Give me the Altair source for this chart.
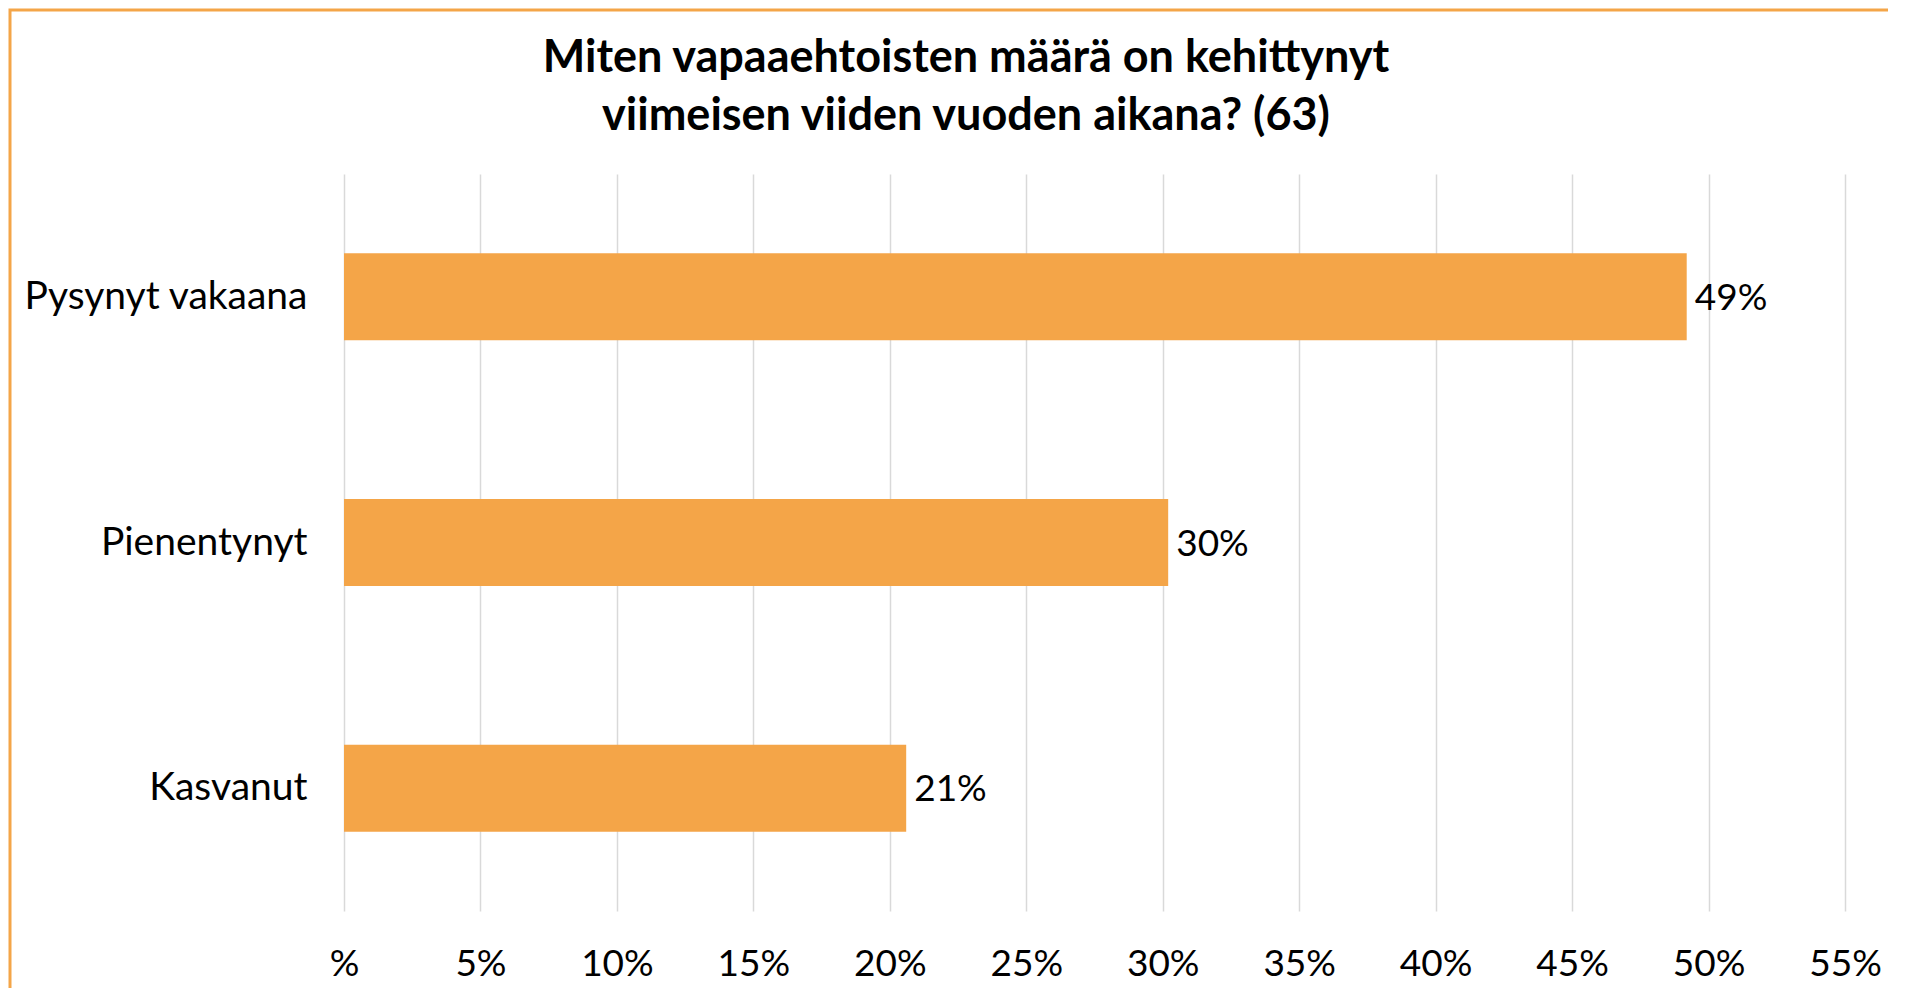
import altair as alt
import pandas as pd

categories = ["Pysynyt vakaana", "Pienentynyt", "Kasvanut"]
values = [49.2, 30.2, 20.6]
labels = ["49%", "30%", "21%"]
x_ticks = [0, 5, 10, 15, 20, 25, 30, 35, 40, 45, 50, 55]
title_lines = ["Miten vapaaehtoisten määrä on kehittynyt", "viimeisen viiden vuoden aikana? (63)"]

df = pd.DataFrame({"cat": categories, "val": values, "lab": labels})

ORANGE = "#F4A548"
FONT = "Lato"
W, H = 1501, 737

xenc = alt.X("val:Q", scale=alt.Scale(domain=[0, 55], nice=False, zero=True),
             axis=alt.Axis(values=x_ticks, title=None, grid=True, gridColor="#d9d9d9", gridWidth=1.5,
                           domain=False, ticks=False, labelFontSize=37, labelFont=FONT,
                           labelColor="#000000", labelPadding=35, labelFlush=False,
                           labelOverlap=False, labelBound=False,
                           labelExpr="datum.value == 0 ? '%' : datum.value + '%'"))
yenc = alt.Y("cat:N", sort=categories,
             scale=alt.Scale(paddingInner=0.646, paddingOuter=0.323),
             axis=alt.Axis(title=None, domain=False, ticks=False, labelFontSize=39, labelFont=FONT,
                           labelColor="#000000", labelPadding=37, grid=False, labelLimit=0))

bars = alt.Chart(df).mark_bar(color=ORANGE).encode(x=xenc, y=yenc)
text = alt.Chart(df).mark_text(align="left", baseline="middle", dx=8, dy=2, fontSize=37, font=FONT,
                               color="#000000").encode(
    x=alt.X("val:Q"), y=alt.Y("cat:N", sort=categories), text="lab:N")

border = alt.Chart(alt.Data(values=[{"a": 1}])).mark_rect(
    fill=None, stroke=ORANGE, strokeWidth=3).encode(
    x=alt.value(-334), x2=alt.value(W + 80), y=alt.value(-164), y2=alt.value(H + 120))

title = alt.Chart(alt.Data(values=[{"a": 1}])).mark_text(
    text=title_lines, font=FONT, fontSize=45, fontWeight="bold", color="#000000",
    align="center", baseline="alphabetic", lineHeight=58).encode(
    x=alt.value(622), y=alt.value(-102))

chart = alt.layer(bars, text, border, title).properties(
    width=W, height=H,
    padding={"left": 336, "top": 166, "right": 43, "bottom": 77},
    autosize=alt.AutoSizeParams(type="none"),
).configure_view(stroke=None)

chart.save("out.html", embed_options={"renderer": "svg", "actions": False})
